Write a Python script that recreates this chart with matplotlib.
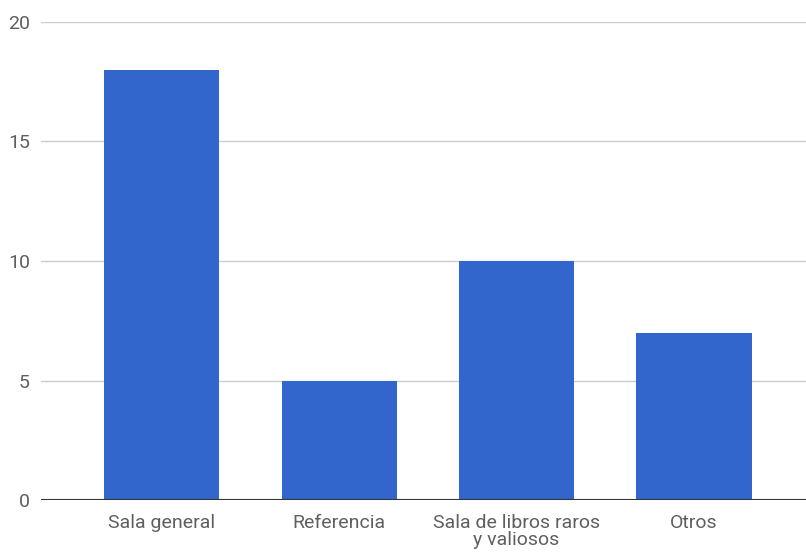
import matplotlib
matplotlib.use('Agg')
from matplotlib import pyplot as plt

categories = ['Sala general', 'Referencia', 'Sala de libros raros\ny valiosos', 'Otros']
values = [18, 5, 10, 7]
yticks = [0, 5, 10, 15, 20]

plt.rcParams['font.family'] = ['Roboto', 'DejaVu Sans']

fig = plt.figure(figsize=(8.06, 5.55), dpi=100)
ax = fig.add_axes([41/806, 55/555, 765/806, 478/555])

x = list(range(len(categories)))
ax.bar(x, values, width=0.648, color='#3366cc', zorder=3)

ax.set_xlim(-0.679, 3.631)
ax.set_ylim(0, 20)
ax.set_yticks(yticks)
ax.set_xticks(x)
ax.set_xticklabels(categories, linespacing=0.95)

# gridlines, baseline
for t in yticks[1:]:
    ax.axhline(t, color='#cccccc', lw=1.0, zorder=1)
ax.axhline(0, color='#333333', lw=1.5, zorder=4)

for s in ax.spines.values():
    s.set_visible(False)
ax.tick_params(axis='both', length=0, labelsize=14, colors='#5f5f5f')
ax.tick_params(axis='y', pad=8)
ax.tick_params(axis='x', pad=10)

fig.savefig('out.png', dpi=100)
